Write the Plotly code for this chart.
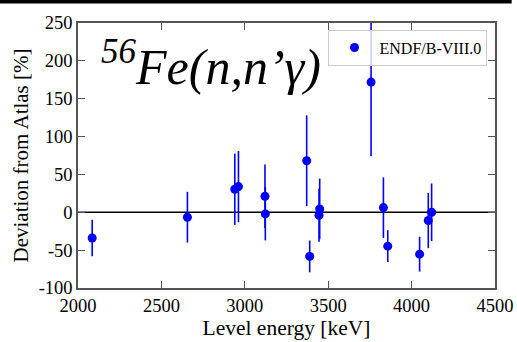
import plotly.graph_objects as go

energy = [2085, 2656, 2940, 2962, 3121, 3123, 3371, 3389, 3449, 3445, 3757, 3831, 3857, 4048, 4100, 4120]
deviation = [-34, -6.5, 30.4, 33.9, 21.2, -2.1, 68.1, -58.3, 4.5, -3.9, 172, 6.2, -44.7, -55.3, -10.9, 0]
error = [24, 33.5, 47, 47, 42, 35, 60, 21, 40, 35, 98, 40, 21, 23, 36.5, 38]

x_ticks = [2000, 2500, 3000, 3500, 4000, 4500]
x_labels = ["2000", "2500", "3000", "3500", "4000", "4500"]
y_ticks = [-100, -50, 0, 50, 100, 150, 200, 250]
y_labels = ["-100", "-50", "0", "50", "100", "150", "200", "250"]

FONT = "Liberation Serif"

fig = go.Figure()
fig.add_trace(go.Scatter(
    x=energy, y=deviation, mode="markers", name="ENDF/B-VIII.0",
    marker=dict(color="#0000ff", size=9),
    error_y=dict(type="data", array=error, visible=True, color="#0000ff",
                 thickness=1.6, width=0),
    cliponaxis=True,
))
fig.add_hline(y=0, line=dict(color="black", width=1.5), layer="below")

axis_common = dict(
    showgrid=False, zeroline=False, showline=True, linecolor="#555555",
    linewidth=1.5, mirror="ticks", ticks="inside", ticklen=7, tickwidth=1.2,
    tickcolor="#555555", tickfont=dict(family=FONT, size=18.5, color="black"),
    automargin=False,
)
fig.update_xaxes(range=[2000, 4500], tickvals=x_ticks, ticktext=x_labels,
                 title=dict(text="Level energy [keV]", font=dict(family=FONT, size=21.5, color="black"), standoff=2),
                 **axis_common)
fig.update_yaxes(range=[-100, 250], tickvals=y_ticks, ticktext=y_labels,
                 title=dict(text="Deviation from Atlas [%]", font=dict(family=FONT, size=21, color="black"), standoff=4),
                 **axis_common)

fig.add_annotation(
    xref="paper", yref="paper", x=0.05, y=0.975, xanchor="left", yanchor="top",
    text="<i><sup>56</sup>Fe(n,n\u2019\u03b3)</i>", showarrow=False,
    font=dict(family=FONT, size=50, color="black"),
)
# black band at top of the image
fig.add_shape(type="rect", xref="paper", yref="paper",
              x0=-0.19, x1=1.04, y0=1.074, y1=1.09,
              fillcolor="black", line=dict(width=0), layer="above")

fig.update_layout(
    width=517, height=342,
    margin=dict(l=77.5, r=22.3, t=22.7, b=53.7),
    paper_bgcolor="white", plot_bgcolor="white",
    showlegend=True,
    legend=dict(x=0.982, y=0.975, xanchor="right", yanchor="top", itemwidth=40,
                bgcolor="rgba(255,255,255,0.8)", bordercolor="#cccccc", borderwidth=1,
                font=dict(family=FONT, size=16, color="black")),
)
fig.write_html("out.html")
